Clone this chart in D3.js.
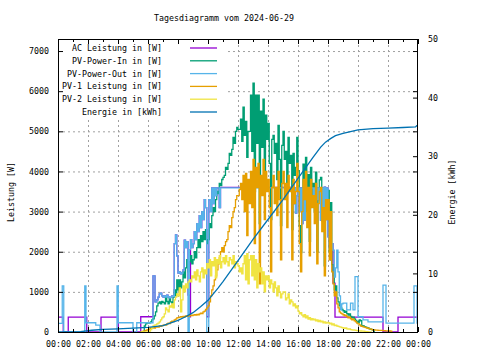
<!DOCTYPE html>
<html><head><meta charset="utf-8">
<script src="https://cdn.jsdelivr.net/npm/d3@7"></script>
<style>
body{margin:0;background:#fff}
text{font-family:"DejaVu Sans Mono",monospace;font-size:8.3px;fill:#000}
</style>
</head><body>
<svg id="chart" width="480" height="360"></svg>
<script>
// ---------- data ----------
const chartTitle = "Tagesdiagramm vom 2024-06-29";
const yLeftLabel = "Leistung [W]";
const yRightLabel = "Energie [kWh]";
const xTickLabels = ["00:00","02:00","04:00","06:00","08:00","10:00","12:00","14:00","16:00","18:00","20:00","22:00","00:00"];
const xTickTimes  = ["00:00","02:00","04:00","06:00","08:00","10:00","12:00","14:00","16:00","18:00","20:00","22:00","24:00"];
const leftTicks  = [0,1000,2000,3000,4000,5000,6000,7000];
const rightTicks = [0,10,20,30,40,50];
const seriesNames  = ["AC Leistung in [W]","PV-Power-In in [W]","PV-Power-Out in [W]","PV-1 Leistung in [W]","PV-2 Leistung in [W]","Energie in [kWh]"];
const seriesColors = ["#9400d3","#009e73","#56b4e9","#e69f00","#f0e442","#0072b2"];

// AC Leistung (step changes)
const acTimes = ["00:00","00:21","00:41","01:55","02:52","04:01","05:31","06:20",
  "06:28","06:35","06:40","06:45","06:50","06:55","07:00","07:05","07:10","07:15","07:20","07:25","07:30","07:35","07:40","07:45","07:50","07:55",
  "08:00","08:05","08:10","08:15","08:20","08:25","08:30","08:35","08:40","08:48","08:50","08:55",
  "09:00","09:05","09:10","09:15","09:20","09:25","09:30","09:35","09:40","09:45","09:50","09:55",
  "10:03","10:10","10:15","10:20","10:25","10:30","10:35","10:45","10:50",
  "15:40","15:45","15:50","15:55","16:00","16:05","16:10","16:15","16:20","16:25","16:30","16:35","16:40","16:45","16:50",
  "17:00","17:05","17:10","17:15","17:20","17:25","17:30","17:35","17:40","17:45","17:50","17:55","18:00","18:05","18:10","18:15",
  "18:20","18:28","21:40","22:40","24:00"];
const acWatt = [370,0,370,0,370,0,380,1400,
  750,800,870,950,970,900,870,900,870,920,880,850,870,900,880,2200,2420,1900,
  1470,1500,1450,1470,1550,2290,2100,2250,920,380,2300,2100,
  2200,2500,2300,2700,2500,2900,2600,3000,2800,3300,3100,380,
  3300,3000,3590,3200,3590,3400,3590,3100,3605,
  3200,3590,2960,3400,3590,3000,3590,2700,3590,2790,3590,3300,3590,3100,3590,
  3400,3590,3000,3590,3300,3590,2790,3590,3100,3610,2800,3590,2370,2100,1790,2200,
  1220,370,0,370,370];

// PV-Power-Out (step changes)
const pvOutTimes = ["00:00","00:17","00:23","01:47","01:52","02:31","02:48","03:56","04:01","05:00","05:15","06:20",
  "06:28","06:35","06:40","06:45","06:50","06:55","07:00","07:05","07:10","07:15","07:20","07:25","07:30","07:35","07:40","07:45","07:50","07:55",
  "08:00","08:05","08:10","08:15","08:20","08:25","08:30","08:35","08:40","08:45","08:50","08:55",
  "09:00","09:05","09:10","09:15","09:20","09:25","09:30","09:35","09:40","09:45","09:50","09:55",
  "10:03","10:10","10:15","10:20","10:25","10:30","10:35","10:45","10:50",
  "15:40","15:45","15:50","15:55","16:00","16:05","16:10","16:15","16:20","16:25","16:30","16:35","16:40","16:45","16:50",
  "17:00","17:05","17:10","17:15","17:20","17:25","17:30","17:35","17:40","17:45","17:50","17:55","18:00","18:05","18:10","18:15",
  "18:20","18:25","18:30","18:35","18:40","18:45","18:50","18:55",
  "19:00","19:15","19:30","19:40","19:48","20:00","20:20","20:40","21:40","21:52","23:44","23:56","24:00"];
const pvOutWatt = [215,1150,0,1150,230,170,0,1150,230,0,230,1400,
  750,800,870,950,970,900,870,900,870,920,880,850,870,900,880,2200,2420,1900,
  1470,1500,1450,1470,1550,2290,2100,2250,0,2050,2300,2100,
  2200,2500,2300,2700,2500,2900,2600,3000,2800,3300,3100,0,
  3300,3000,3590,3200,3590,3400,3590,3100,3590,
  3200,3590,2960,3400,3590,3000,3590,2700,3590,2790,3590,3300,3590,3100,3590,
  3400,3590,3000,3590,3300,3590,2790,3590,3100,3610,2800,3590,2370,2100,1790,2200,
  2040,1370,1600,2040,1500,900,550,700,
  720,550,720,550,1380,380,300,250,1170,220,1150,220,220];

// 5-minute samples starting at sampleStart
const sampleStart = "05:30";
const sampleStepMinutes = 5;
const pvInWatt = [0,0,0,150,200,220,
  220,230,250,300,330,400,500,650,720,750,700,760,
  740,700,870,760,700,850,750,720,870,1050,900,1300,
  1050,1300,1100,1250,1500,1350,1600,1800,1500,1750,1900,1700,
  1800,2000,1850,2100,2300,2100,2400,2250,2500,2300,2550,2200,
  2300,2700,2600,2900,3100,3000,3300,3500,3450,3700,3650,3800,
  3850,3900,4100,4050,4200,4450,4400,4550,4850,4700,5000,5100,
  5050,5050,5300,4750,5600,4900,5250,4350,5000,5000,5900,4500,
  6200,3500,5900,4700,5900,2700,5500,4600,5800,3800,5400,4800,
  5200,4200,2800,4800,4900,4450,4700,3800,5150,4300,2650,4650,
  5000,4300,4500,3450,4850,4200,4400,2550,4450,3900,4100,4850,
  4020,2650,1980,3420,4180,3730,4350,3000,3920,2260,4100,3430,
  3700,3020,3980,2000,3460,3790,3850,2770,3330,1650,3520,3040,
  3530,2000,3220,1680,1400,1050,1150,850,750,650,600,560,
  530,490,520,460,420,450,390,355,370,325,290,255,
  230,300,280,160,150,135,120,110,95,80,70,60,
  50,0];
const pv1Watt = [0,0,20,30,40,50,
  60,80,100,100,110,100,120,130,120,150,140,160,
  170,180,170,200,220,210,250,270,260,300,320,350,
  360,370,380,370,390,380,400,390,410,400,420,410,
  420,430,420,440,430,450,470,460,500,520,560,600,
  650,750,900,1050,1150,1300,1400,1550,1700,1850,2000,2100,
  2000,2150,2250,2300,2500,2650,2600,2850,3000,3100,3300,3400,
  3400,3550,3700,3300,3900,3000,3950,2400,3800,3200,4000,3100,
  4300,2200,4100,3600,4200,1200,3900,3400,4300,2800,4000,3500,
  3800,3100,1500,3600,3900,3200,3600,2900,4000,3300,1800,3700,
  4000,3300,3700,2600,3900,3500,3600,1800,3800,3200,3500,4200,
  3500,2200,1500,3000,3800,3300,4000,2600,3600,1900,3800,3100,
  3400,2700,3700,1700,3200,3500,3600,2500,3100,1400,3300,2800,
  3300,1800,3000,1500,1200,900,1000,700,600,500,470,450,
  430,400,420,380,350,370,330,300,320,280,250,220,
  200,180,150,140,130,120,110,100,90,80,70,60,
  50,50,45,45,40,40,40,40,35,35,30,30,
  30,25,20,0];
const pv2Watt = [0,0,0,0,0,0,
  0,20,60,100,150,170,180,200,220,250,300,350,
  380,450,600,550,500,650,620,700,600,800,870,950,
  900,1100,500,800,1150,1000,1200,1100,1250,1300,1250,1400,
  1350,1500,1300,1550,1400,1250,1500,1600,1350,1550,1450,1700,
  1600,1800,1400,1750,1650,1850,1350,1800,1700,1900,1600,1750,
  1850,1700,1900,1750,1650,1850,1800,1700,1900,1600,1750,1700,
  1650,1500,1600,1450,1700,1900,1300,1950,1200,1800,1900,1400,
  1900,1300,1800,1100,1700,1500,1600,1200,1500,1000,1400,1300,
  1400,1100,1300,1200,1000,1250,1100,900,1150,1000,850,950,
  1000,1000,800,850,950,700,800,750,650,700,600,650,
  520,450,480,420,380,430,350,400,320,360,300,330,
  300,320,280,300,260,290,250,270,230,250,220,240,
  230,200,220,180,200,160,170,150,140,130,120,110,
  100,90,100,80,70,75,60,55,50,45,40,35,
  30,30,25,20,20,15,10,10,5,0,0,0];

// Energie (kWh)
const energyTimes = ["00:00","01:30","02:15","03:00","04:00","05:00","06:00","07:00","08:00","08:30","09:00","09:30","10:00","10:40","11:00","12:00","13:00","14:00","15:00","16:00","17:00","17:30","17:50","18:10","18:30","19:00","19:30","20:00","21:00","22:00","23:00","23:50","23:55","24:00"];
const energyKWh   = [0,0.05,0.3,0.45,0.55,0.65,0.8,1.1,2.0,2.6,3.3,4.3,5.4,7.5,8.6,12.2,15.8,19.2,22.6,26.2,29.8,31.5,32.4,33.0,33.5,33.9,34.2,34.5,34.7,34.8,34.9,35.0,35.2,35.2];

// ---------- drawing ----------
const L = 58, R = 418, T = 39, B = 332;
const toMin = s => { const p = s.split(":").map(Number); return p[0]*60 + p[1]; };
const svg = d3.select("#chart");
const x  = d3.scaleLinear().domain([0,1440]).range([L,R]);
const yL = d3.scaleLinear().domain([0,7300]).range([B,T]);
const yR = d3.scaleLinear().domain([0,50]).range([B,T]);
const xMajor = xTickTimes.map(toMin);
const xMinor = d3.range(60,1440,120);

// grid
const gGrid = svg.append("g");
gGrid.append("g").attr("transform",`translate(0,${B})`)
  .call(d3.axisBottom(x).tickValues(xMajor.slice(1,-1)).tickSize(-(B-T)).tickFormat(""));
gGrid.append("g").attr("transform",`translate(${L},0)`)
  .call(d3.axisLeft(yL).tickValues(leftTicks.slice(1)).tickSize(-(R-L)).tickFormat(""));
gGrid.selectAll(".domain").remove();
gGrid.selectAll("line").attr("stroke","#a0a0a0").attr("stroke-width",1).attr("stroke-dasharray","2,3");

// series
svg.append("defs").append("clipPath").attr("id","clip")
  .append("rect").attr("x",L).attr("y",T).attr("width",R-L).attr("height",B-T);
const gData = svg.append("g").attr("clip-path","url(#clip)");
const stepLine = d3.line().x(d=>x(d[0])).y(d=>yL(d[1])).curve(d3.curveStepAfter);
const linLine = d3.line().x(d=>x(d[0])).y(d=>yR(d[1]));
const pairs = (ts, vs) => ts.map((t,i)=>[toMin(t), vs[i]]);
const sampled = (vs) => vs.map((v,i)=>[toMin(sampleStart)+i*sampleStepMinutes, v]);

const drawn = [
  {d: pairs(acTimes, acWatt), c: seriesColors[0], g: stepLine},
  {d: sampled(pvInWatt), c: seriesColors[1], g: stepLine},
  {d: pairs(pvOutTimes, pvOutWatt), c: seriesColors[2], g: stepLine},
  {d: sampled(pv1Watt), c: seriesColors[3], g: stepLine},
  {d: sampled(pv2Watt), c: seriesColors[4], g: stepLine},
  {d: pairs(energyTimes, energyKWh), c: seriesColors[5], g: linLine}
];
drawn.forEach(s => {
  gData.append("path").attr("d", s.g(s.d)).attr("fill","none")
    .attr("stroke", s.c).attr("stroke-width",1.3).attr("stroke-linejoin","miter");
});

// legend
const lg = svg.append("g");
lg.append("rect").attr("x",L+1).attr("y",T+1).attr("width",166).attr("height",79).attr("fill","#fff");
seriesNames.forEach((n,i) => {
  const yy = 48 + i*12.8;
  lg.append("text").attr("x",162).attr("y",yy).attr("text-anchor","end").attr("dy","0.35em").text(n);
  lg.append("line").attr("x1",190).attr("x2",217).attr("y1",yy).attr("y2",yy)
    .attr("stroke",seriesColors[i]).attr("stroke-width",1.3);
});

// axes
function styleAxis(g){ g.select(".domain").remove(); g.selectAll("line").attr("stroke","#000"); g.selectAll("text").attr("font-family",null).attr("font-size",null); }
svg.append("g").attr("transform",`translate(0,${B})`)
  .call(d3.axisBottom(x).tickValues(xMajor).tickFormat((d,i)=>xTickLabels[i]).tickSizeInner(-5).tickSizeOuter(0).tickPadding(9)).call(styleAxis);
svg.append("g").attr("transform",`translate(0,${B})`)
  .call(d3.axisBottom(x).tickValues(xMinor).tickFormat("").tickSizeInner(-3).tickSizeOuter(0)).call(styleAxis);
svg.append("g").attr("transform",`translate(0,${T})`)
  .call(d3.axisTop(x).tickValues(xMajor).tickFormat("").tickSizeInner(-5).tickSizeOuter(0)).call(styleAxis);
svg.append("g").attr("transform",`translate(0,${T})`)
  .call(d3.axisTop(x).tickValues(xMinor).tickFormat("").tickSizeInner(-3).tickSizeOuter(0)).call(styleAxis);
svg.append("g").attr("transform",`translate(${L},0)`)
  .call(d3.axisLeft(yL).tickValues(leftTicks).tickFormat(d3.format("d")).tickSizeInner(-5).tickSizeOuter(0).tickPadding(9)).call(styleAxis);
svg.append("g").attr("transform",`translate(${R},0)`)
  .call(d3.axisRight(yL).tickValues(leftTicks).tickFormat("").tickSizeInner(-5).tickSizeOuter(0)).call(styleAxis);
svg.append("g").attr("transform",`translate(${R},0)`)
  .call(d3.axisRight(yR).tickValues(rightTicks).tickFormat(d3.format("d")).tickSizeInner(-5).tickSizeOuter(0).tickPadding(10)).call(styleAxis);

// border
svg.append("rect").attr("x",L+0.5).attr("y",T+0.5).attr("width",R-L-1).attr("height",B-T)
  .attr("fill","none").attr("stroke","#000").attr("stroke-width",1);

// titles
svg.append("text").attr("x",224).attr("y",20.5).attr("text-anchor","middle").text(chartTitle);
svg.append("text").attr("transform","translate(14,192) rotate(-90)").attr("text-anchor","middle").text(yLeftLabel);
svg.append("text").attr("transform","translate(455,192) rotate(-90)").attr("text-anchor","middle").text(yRightLabel);
</script>
</body></html>
